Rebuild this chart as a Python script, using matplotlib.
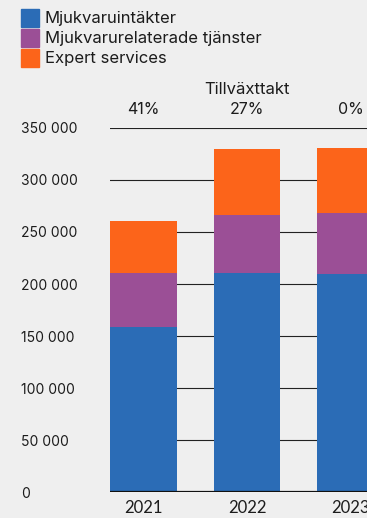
import matplotlib.pyplot as plt
from matplotlib.patches import Rectangle

# intäkter per år, SEK tusen
years = ['2021', '2022', '2023']
mjukvara = [158500, 210400, 209400]
tjanster = [51900, 55700, 58600]
expert = [49900, 63400, 62500]
tillvaxt = ['41%', '27%', '0%']
serier = ['Mjukvaruintäkter', 'Mjukvarurelaterade tjänster', 'Expert services']
farger = ['#2b6cb6', '#9b4f96', '#fc641a']
yticks = [0, 50000, 100000, 150000, 200000, 250000, 300000, 350000]

bg = '#efefef'
txt = '#1c1c1c'
plt.rcParams['font.family'] = ['Inter', 'DejaVu Sans']

W, H = 367, 518
fig = plt.figure(figsize=(W / 100, H / 100), dpi=100, facecolor=bg)

bar_w = 0.647
x0 = -bar_w / 2
x1 = 2.5
step = 103.5
ax = fig.add_axes([110 / W, 26 / H, (x1 - x0) * step / W, 364 / H])
ax.set_facecolor(bg)

x = list(range(len(years)))
bottom = [0] * len(years)
for vals, c in zip([mjukvara, tjanster, expert], farger):
    ax.bar(x, vals, width=bar_w, bottom=bottom, color=c, zorder=3)
    bottom = [b + v for b, v in zip(bottom, vals)]

for v in yticks[1:]:
    ax.axhline(v, color='#222222', lw=0.8, zorder=1)
ax.axhline(0, color='#111111', lw=1.6, zorder=4)

ax.set_xlim(x0, x1)
ax.set_ylim(0, 350000)
for s in ax.spines.values():
    s.set_visible(False)

ax.set_xticks(x)
ax.set_xticklabels(years, fontsize=12, color=txt, family=['Lato', 'DejaVu Sans'])
ax.tick_params(axis='x', length=0, pad=6)

ax.set_yticks(yticks)
ax.set_yticklabels([f'{v:,}'.replace(',', ' ') for v in yticks], fontsize=10,
                   color=txt, ha='left')
ax.tick_params(axis='y', length=0, pad=64)

for xi, t in zip(x, tillvaxt):
    ax.text(xi, 368000, t, ha='center', va='center', fontsize=11.5, color=txt, clip_on=False)
ax.text(1, 387000, 'Tillväxttakt', ha='center', va='center', fontsize=12, color=txt, clip_on=False)

# förklaring uppe till vänster
for i, (lab, c) in enumerate(zip(serier, farger)):
    top = 9 + i * 20
    fig.patches.append(Rectangle((21 / W, 1 - (top + 18) / H), 18 / W, 18 / H,
                                 transform=fig.transFigure, color=c))
    fig.text(45 / W, 1 - (top + 10) / H, lab, ha='left', va='center', fontsize=12, color=txt)

fig.savefig('out.png', dpi=100, facecolor=bg)
